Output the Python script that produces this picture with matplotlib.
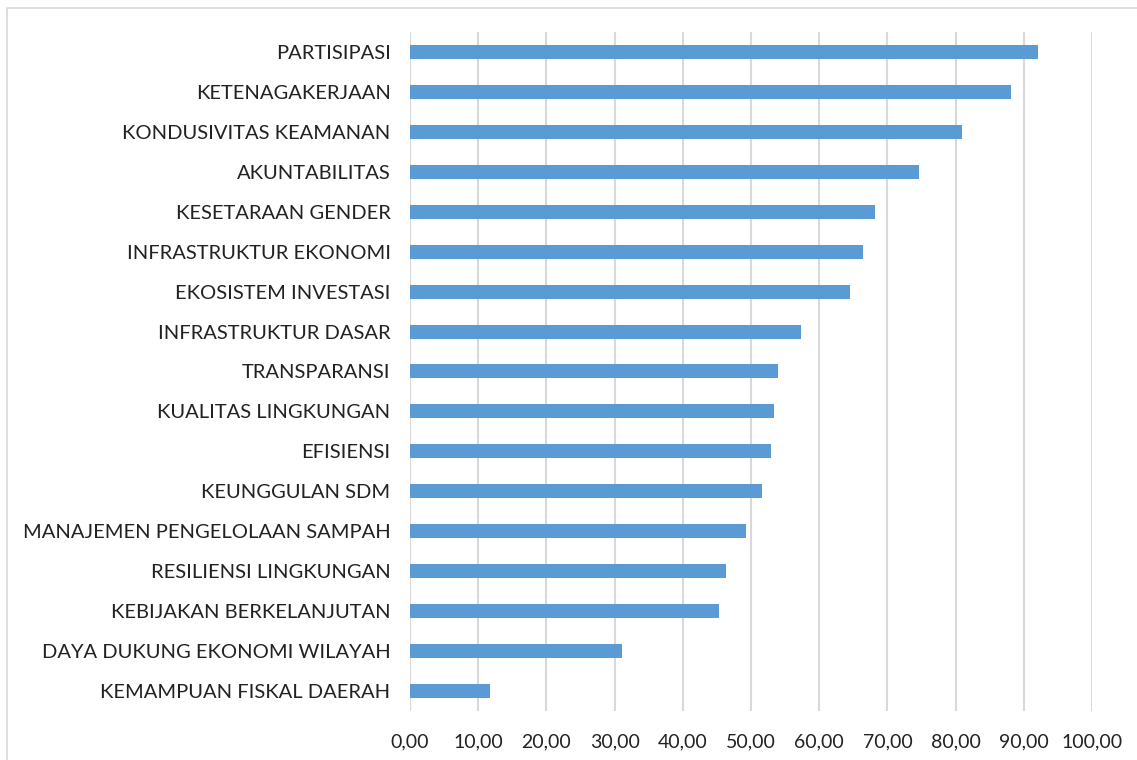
import matplotlib.pyplot as plt
from matplotlib.patches import Rectangle

# data, top to bottom as shown
categories = [
    "PARTISIPASI", "KETENAGAKERJAAN", "KONDUSIVITAS KEAMANAN", "AKUNTABILITAS",
    "KESETARAAN GENDER", "INFRASTRUKTUR EKONOMI", "EKOSISTEM INVESTASI",
    "INFRASTRUKTUR DASAR", "TRANSPARANSI", "KUALITAS LINGKUNGAN", "EFISIENSI",
    "KEUNGGULAN SDM", "MANAJEMEN PENGELOLAAN SAMPAH", "RESILIENSI LINGKUNGAN",
    "KEBIJAKAN BERKELANJUTAN", "DAYA DUKUNG EKONOMI WILAYAH", "KEMAMPUAN FISKAL DAERAH",
]
values = [92.1, 88.1, 81.0, 74.6, 68.2, 66.4, 64.5, 57.3, 54.0, 53.4, 52.9,
          51.6, 49.3, 46.3, 45.3, 31.1, 11.8]
xticks = [0, 10, 20, 30, 40, 50, 60, 70, 80, 90, 100]

plt.rcParams['font.family'] = ['Lato', 'DejaVu Sans']

fig = plt.figure(figsize=(11.37, 7.6), dpi=100)
ax = fig.add_axes([0.3606, 0.0645, 0.5998, 0.8934])

# light frame around the chart
fig.patches.append(Rectangle((7 / 1137, -0.01), 1.0, 1 - 8 / 760 + 0.01,
                             transform=fig.transFigure, fill=False,
                             edgecolor='#d9d9d9', linewidth=1.2))

y = list(range(len(categories)))
ax.barh(y, values, height=0.35, color='#5b9bd5', zorder=3)

ax.set_ylim(len(categories) - 0.5, -0.5)
ax.set_xlim(0, 100)
ax.set_xticks(xticks)
ax.set_xticklabels([f"{t:.2f}".replace('.', ',') for t in xticks], fontsize=14, color='#222222')
ax.set_yticks(y)
ax.set_yticklabels(categories, fontsize=14.5, color='#222222')

ax.grid(axis='x', color='#d9d9d9', linewidth=1.5, zorder=0)
ax.axvline(0, color='#d9d9d9', linewidth=1.5, zorder=1)
for s in ax.spines.values():
    s.set_visible(False)
ax.tick_params(axis='x', length=0, pad=16)
ax.tick_params(axis='y', length=0, pad=14)

fig.savefig('out.png', dpi=100)
